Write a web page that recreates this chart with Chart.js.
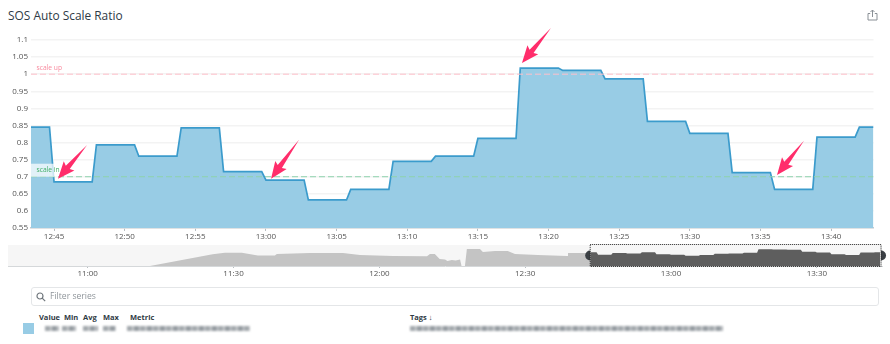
<!DOCTYPE html>
<html><head><meta charset="utf-8">
<script src="https://cdn.jsdelivr.net/npm/chart.js@4"></script>
<style>
html,body{margin:0;padding:0;background:#fff;width:890px;height:344px;overflow:hidden;font-family:"Open Sans",sans-serif}
canvas{position:absolute;left:0}
.t{position:absolute;white-space:nowrap}
.b{position:absolute;height:5px;filter:blur(1px);background:repeating-linear-gradient(90deg,#a4a9ae 0 5px,#c6c9cc 5px 7px,#969ca2 7px 12px,#d2d4d7 12px 13px)}
.h{font-weight:700;font-size:7.5px;color:#2f3a44;top:312px;line-height:10px}
</style></head><body>
<div class="t" id="title" style="left:8px;top:6px;font-size:11.9px;line-height:18px;color:#2e3a46">SOS Auto Scale Ratio</div>
<svg style="position:absolute;left:867px;top:9px" width="11" height="12" viewBox="0 0 11 12" fill="none" stroke="#8a9096" stroke-width="1"><path d="M3.2 4.5H1v6.5h9V4.5H7.8"/><path d="M5.5 8V1M3.5 3l2-2 2 2"/></svg>
<canvas id="main" width="890" height="244" style="top:0;width:890px;height:244px"></canvas>
<canvas id="mini" width="890" height="40" style="top:240px;width:890px;height:40px"></canvas>
<div style="position:absolute;left:31px;top:287px;width:846px;height:17px;border:1px solid #e4e6e8;border-radius:3px"></div>
<svg style="position:absolute;left:36px;top:292px" width="10" height="10" viewBox="0 0 10 10" fill="none" stroke="#6f767c" stroke-width="1.2"><circle cx="4" cy="4" r="3"/><path d="M6.2 6.2L9.2 9.2"/></svg>
<div class="t" style="left:50px;top:290px;font-size:8.6px;line-height:12px;color:#8f959a">Filter series</div>
<div class="t h" style="left:39px">Value</div><div class="t h" style="left:64px">Min</div><div class="t h" style="left:83px">Avg</div><div class="t h" style="left:103px">Max</div><div class="t h" style="left:130px">Metric</div><div class="t h" style="left:410px">Tags ↓</div>
<div style="position:absolute;left:23px;top:323px;width:11px;height:11px;background:#98cce5"></div>
<div class="b" style="left:45px;top:325.5px;width:14px"></div><div class="b" style="left:62px;top:325.5px;width:14px"></div><div class="b" style="left:83px;top:325.5px;width:15px"></div><div class="b" style="left:103px;top:325.5px;width:13px"></div><div class="b" style="left:127px;top:325.5px;width:123px"></div><div class="b" style="left:410px;top:325.5px;width:313px"></div>
<script>
// minutes after 12:00
const ratioMinutes = [43.37,44.68,45,47.7,48,50.7,51,53.7,54,56.7,57,59.7,60,62.7,63,65.7,66,68.7,69,71.7,72,74.7,75,77.7,78,80.7,81,83.7,84,86.7,87,89.7,90,92.7,93,95.7,96,98.7,99,101.7,102,103];
const ratioValues = [0.845,0.845,0.685,0.685,0.793,0.793,0.76,0.76,0.843,0.843,0.715,0.715,0.69,0.69,0.632,0.632,0.663,0.663,0.745,0.745,0.76,0.76,0.812,0.812,1.018,1.018,1.011,1.011,0.986,0.986,0.862,0.862,0.827,0.827,0.712,0.712,0.663,0.663,0.816,0.816,0.845,0.845];
const historyMinutes = [-76.4,-47.2,-34.3,-31.8,-28.3,-27.7,-25,-21.5,-21.1,-14.3,-7.5,-4,2.8,9.8,10.4,11.4,12.4,13.5,14,14.9,15.7,16.6,16.9,17.6,18,20.7,21.3,23.8,26.4,27.9,32.6,38.6,38.8,43.37];
const historyValues = [0,0,0.71,0.81,0.81,0.78,0.64,0.64,0.73,0.79,0.79,0.67,0.61,0.59,0.73,0.73,0.43,0.4,0.3,0.37,0.33,0.4,0,0,1.03,1.03,0.85,0.91,0.91,0.73,0.67,0.61,0.79,0.79];
const yTicks = [0.55,0.6,0.65,0.7,0.75,0.8,0.85,0.9,0.95,1,1.05,1.1];
const mainTicks = [45,50,55,60,65,70,75,80,85,90,95,100];
const miniTicks = [-60,-30,0,30,60,90];
const scaleUp = 1, scaleIn = 0.7;
const arrowTips = [[45.28,0.694],[60.36,0.694],[78.12,1.033],[96.17,0.705]];
const arrowTails = [[47.34,0.793],[62.34,0.808],[80.17,1.135],[98.08,0.805]];

const xRange = [43.37,103];
const miniRange = [-76.4,103.4];
const clock = m => { let t=720+m, h=Math.floor(t/60), n=Math.round(t-h*60); return h+':'+String(n).padStart(2,'0'); };
const tickFont = {family:'"Open Sans"',size:8};
const pairs = (xs,ys)=>xs.map((x,i)=>({x,y:ys[i]}));

const overlay = {
  id:'overlay',
  afterDatasetsDraw(c){
    const {ctx,scales:{x,y}} = c;
    ctx.save();
    ctx.fillStyle='rgba(255,255,255,0.72)';
    ctx.fillRect(x.left,y.getPixelForValue(scaleIn)-13,27,13);
    ctx.font='6.7px "Open Sans"'; ctx.textBaseline='middle'; ctx.textAlign='left';
    ctx.fillStyle='#f88a9e'; ctx.fillText('scale up',x.left+5.5,y.getPixelForValue(scaleUp)-6.5);
    ctx.fillStyle='#3fae66'; ctx.fillText('scale in',x.left+5.5,y.getPixelForValue(scaleIn)-6.5);
    ctx.fillStyle='#ff2d6b';
    arrowTips.forEach((tip,i)=>{
      const tx=x.getPixelForValue(tip[0]),ty=y.getPixelForValue(tip[1]);
      const ex=x.getPixelForValue(arrowTails[i][0]),ey=y.getPixelForValue(arrowTails[i][1]);
      const L=Math.hypot(ex-tx,ey-ty),ux=(ex-tx)/L,uy=(ey-ty)/L,nx=-uy,ny=ux;
      const p=(a,b)=>[tx+ux*a+nx*b,ty+uy*a+ny*b];
      const s=[p(0,0),p(17,7),p(15,2.6),p(L,0),p(15,-2.6),p(17,-7)];
      ctx.beginPath(); s.forEach((q,k)=>k?ctx.lineTo(q[0],q[1]):ctx.moveTo(q[0],q[1])); ctx.closePath(); ctx.fill();
    });
    ctx.restore();
  }
};
new Chart(document.getElementById('main'),{
  type:'line',
  data:{datasets:[
    {data:pairs(ratioMinutes,ratioValues),borderColor:'#3b9bcc',backgroundColor:'#98cce5',borderWidth:1.7,fill:'origin',pointRadius:0,tension:0,order:2},
    {data:pairs(xRange,[scaleUp,scaleUp]),borderColor:'#ffc0ca',borderWidth:1,borderDash:[6,3],pointRadius:0,fill:false,order:1},
    {data:pairs(xRange,[scaleIn,scaleIn]),borderColor:'#8fd3ad',borderWidth:1,borderDash:[6,3],pointRadius:0,fill:false,order:1}
  ]},
  options:{responsive:false,animation:false,parsing:{xAxisKey:'x',yAxisKey:'y'},
    layout:{padding:{top:40,right:16.5,left:0,bottom:0}},
    plugins:{legend:{display:false},tooltip:{enabled:false}},
    scales:{
      x:{type:'linear',min:xRange[0],max:xRange[1],
        afterBuildTicks:s=>{s.ticks=mainTicks.map(value=>({value}));},
        afterFit:s=>{s.height=16;},
        grid:{drawOnChartArea:false,tickLength:3,color:'#b9bec2'},
        border:{color:'#c5cbd0',width:1.5},
        ticks:{font:tickFont,color:'#555',padding:1,maxRotation:0,autoSkip:false,callback:v=>clock(v)}},
      y:{type:'linear',min:0.55,max:1.1,
        afterBuildTicks:s=>{s.ticks=yTicks.map(value=>({value}));},
        afterFit:s=>{s.width=31;},
        grid:{color:'#f3f3f3',lineWidth:1.5,drawTicks:false},
        border:{display:false},
        ticks:{font:tickFont,color:'#555',padding:3,autoSkip:false,callback:v=>String(+v.toFixed(2))}}
    }},
  plugins:[overlay]
});
const miniDeco = {
  id:'miniDeco',
  beforeDatasetsDraw(c){
    const {ctx,chartArea:a} = c;
    ctx.save();
    ctx.fillStyle='#f6f6f6'; ctx.fillRect(a.left,a.top,a.right-a.left,a.bottom-a.top);
    ctx.restore();
  },
  afterDatasetsDraw(c){
    const {ctx,chartArea:a,scales:{x}} = c;
    ctx.save();
    const l=x.getPixelForValue(xRange[0]),r=x.getPixelForValue(miniRange[1]-0.2);
    ctx.fillStyle='#3a3f44';
    const my=(a.top+a.bottom)/2;
    [[l,Math.PI/2,Math.PI*1.5],[r,-Math.PI/2,Math.PI/2]].forEach(h=>{ctx.beginPath();ctx.arc(h[0],my,5,h[1],h[2]);ctx.fill();});
    ctx.strokeStyle='#222'; ctx.lineWidth=1; ctx.setLineDash([1,1]);
    ctx.strokeRect(l,a.top-0.5,r-l,a.bottom-a.top+1);
    ctx.restore();
  }
};
new Chart(document.getElementById('mini'),{
  type:'line',
  data:{datasets:[
    {data:pairs(historyMinutes,historyValues),borderWidth:0,backgroundColor:'#c4c4c4',fill:'origin',pointRadius:0,tension:0},
    {data:pairs(ratioMinutes,ratioValues),borderWidth:0,backgroundColor:'#5e5e5e',fill:'origin',pointRadius:0,tension:0}
  ]},
  options:{responsive:false,animation:false,
    layout:{padding:{top:5,left:8,right:8,bottom:0}},
    plugins:{legend:{display:false},tooltip:{enabled:false}},
    scales:{
      x:{type:'linear',min:miniRange[0],max:miniRange[1],
        afterBuildTicks:s=>{s.ticks=miniTicks.map(value=>({value}));},
        afterFit:s=>{s.height=14;},
        grid:{drawOnChartArea:false,tickLength:2,color:'#b9bec2'},
        border:{color:'#d5d8da',width:1},
        ticks:{font:tickFont,color:'#555',padding:1,maxRotation:0,autoSkip:false,callback:v=>clock(v)}},
      y:{type:'linear',display:false,min:0,max:1.28}
    }},
  plugins:[miniDeco]
});
</script>
</body></html>
